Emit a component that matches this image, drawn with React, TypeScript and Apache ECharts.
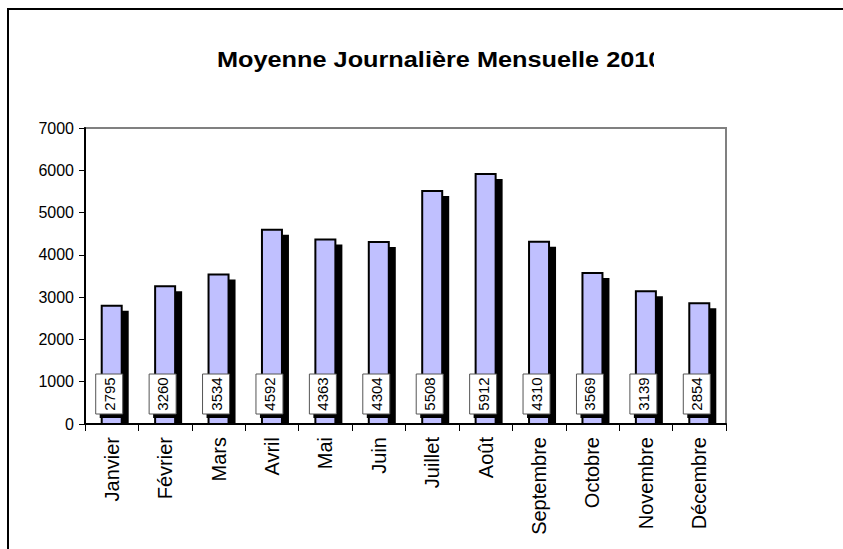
import React, { useEffect, useRef } from "react";
import * as echarts from "echarts";

const months = [
  "Janvier", "Février", "Mars", "Avril", "Mai", "Juin",
  "Juillet", "Août", "Septembre", "Octobre", "Novembre", "Décembre",
];
const values = [2795, 3260, 3534, 4592, 4363, 4304, 5508, 5912, 4310, 3569, 3139, 2854];
const titleText = "Moyenne Journalière Mensuelle 2010";
const yMin = 0;
const yMax = 7000;
const yInterval = 1000;

const FONT = 'Arial, "Liberation Sans", sans-serif';

export default function App() {
  const ref = useRef<HTMLDivElement>(null);
  useEffect(() => {
    if (!ref.current) return;
    const chart = echarts.init(ref.current, null, { renderer: "svg" });
    const option: any = {
      animation: false,
      backgroundColor: "#fff",
      grid: {
        left: 76,
        right: 121,
        top: 118,
        bottom: 129,
        show: true,
        borderColor: "#808080",
        borderWidth: 2,
        backgroundColor: "transparent",
      },
      graphic: [
        {
          type: "text",
          x: 208,
          y: 50,
          scaleX: 1.15,
          z: 10,
          style: {
            text: titleText,
            font: `bold 22px ${FONT}`,
            fill: "#000",
            textAlign: "left",
            textVerticalAlign: "middle",
          },
        },
        {
          type: "rect",
          z: 11,
          shape: { x: 645, y: 30, width: 60, height: 40 },
          style: { fill: "#fff" },
        },
      ],
      xAxis: {
        type: "category",
        data: months,
        axisLine: { show: true, lineStyle: { color: "#000", width: 2 } },
        axisTick: { show: true, interval: 0, length: 7, lineStyle: { color: "#000", width: 1 } },
        axisLabel: {
          interval: 0,
          rotate: 90,
          margin: 13,
          fontSize: 20,
          fontFamily: FONT,
          color: "#000",
        },
        splitLine: { show: false },
      },
      yAxis: {
        type: "value",
        min: yMin,
        max: yMax,
        interval: yInterval,
        axisLine: { show: true, lineStyle: { color: "#000", width: 2 } },
        axisTick: { show: true, length: 6, lineStyle: { color: "#000", width: 1 } },
        axisLabel: {
          fontSize: 16,
          fontFamily: FONT,
          color: "#000",
          margin: 11,
          formatter: (v: number) => String(v),
        },
        splitLine: { show: false },
      },
      series: [
        {
          type: "custom",
          data: values.map((v, i) => [i, v]),
          encode: { x: 0, y: 1 },
          renderItem: (params: any, api: any) => {
            const i = api.value(0);
            const v = api.value(1);
            const base = api.coord([i, 0]);
            const top = api.coord([i, v]);
            const cx = base[0];
            const y0 = base[1];
            const y1 = top[1];
            return {
              type: "group",
              children: [
                {
                  type: "rect",
                  shape: { x: cx - 5, y: y1 + 5, width: 22, height: y0 - y1 - 5 },
                  style: { fill: "#000" },
                },
                {
                  type: "rect",
                  shape: { x: cx - 10, y: y1, width: 20, height: y0 - y1 },
                  style: { fill: "#C0C0FF", stroke: "#000", lineWidth: 2 },
                },
                {
                  type: "rect",
                  shape: { x: cx - 12, y: y0 - 46, width: 27, height: 40 },
                  style: { fill: "#000" },
                },
                {
                  type: "rect",
                  shape: { x: cx - 16, y: y0 - 50, width: 27, height: 40 },
                  style: { fill: "#fff", stroke: "#555", lineWidth: 1 },
                },
                {
                  type: "text",
                  x: cx - 2.5,
                  y: y0 - 30,
                  rotation: Math.PI / 2,
                  style: {
                    text: String(v),
                    font: `15px ${FONT}`,
                    fill: "#000",
                    textAlign: "center",
                    textVerticalAlign: "middle",
                    align: "center",
                    verticalAlign: "middle",
                  },
                },
              ],
            };
          },
        },
      ],
    };
    chart.setOption(option);
    return () => chart.dispose();
  }, []);
  return (
    <div
      style={{
        position: "fixed",
        left: 7,
        top: 8,
        width: 840,
        height: 545,
        borderTop: "2px solid #000",
        borderLeft: "2px solid #000",
        boxSizing: "border-box",
        background: "#fff",
      }}
    >
      <div ref={ref} style={{ width: 838, height: 543 }} />
    </div>
  );
}
